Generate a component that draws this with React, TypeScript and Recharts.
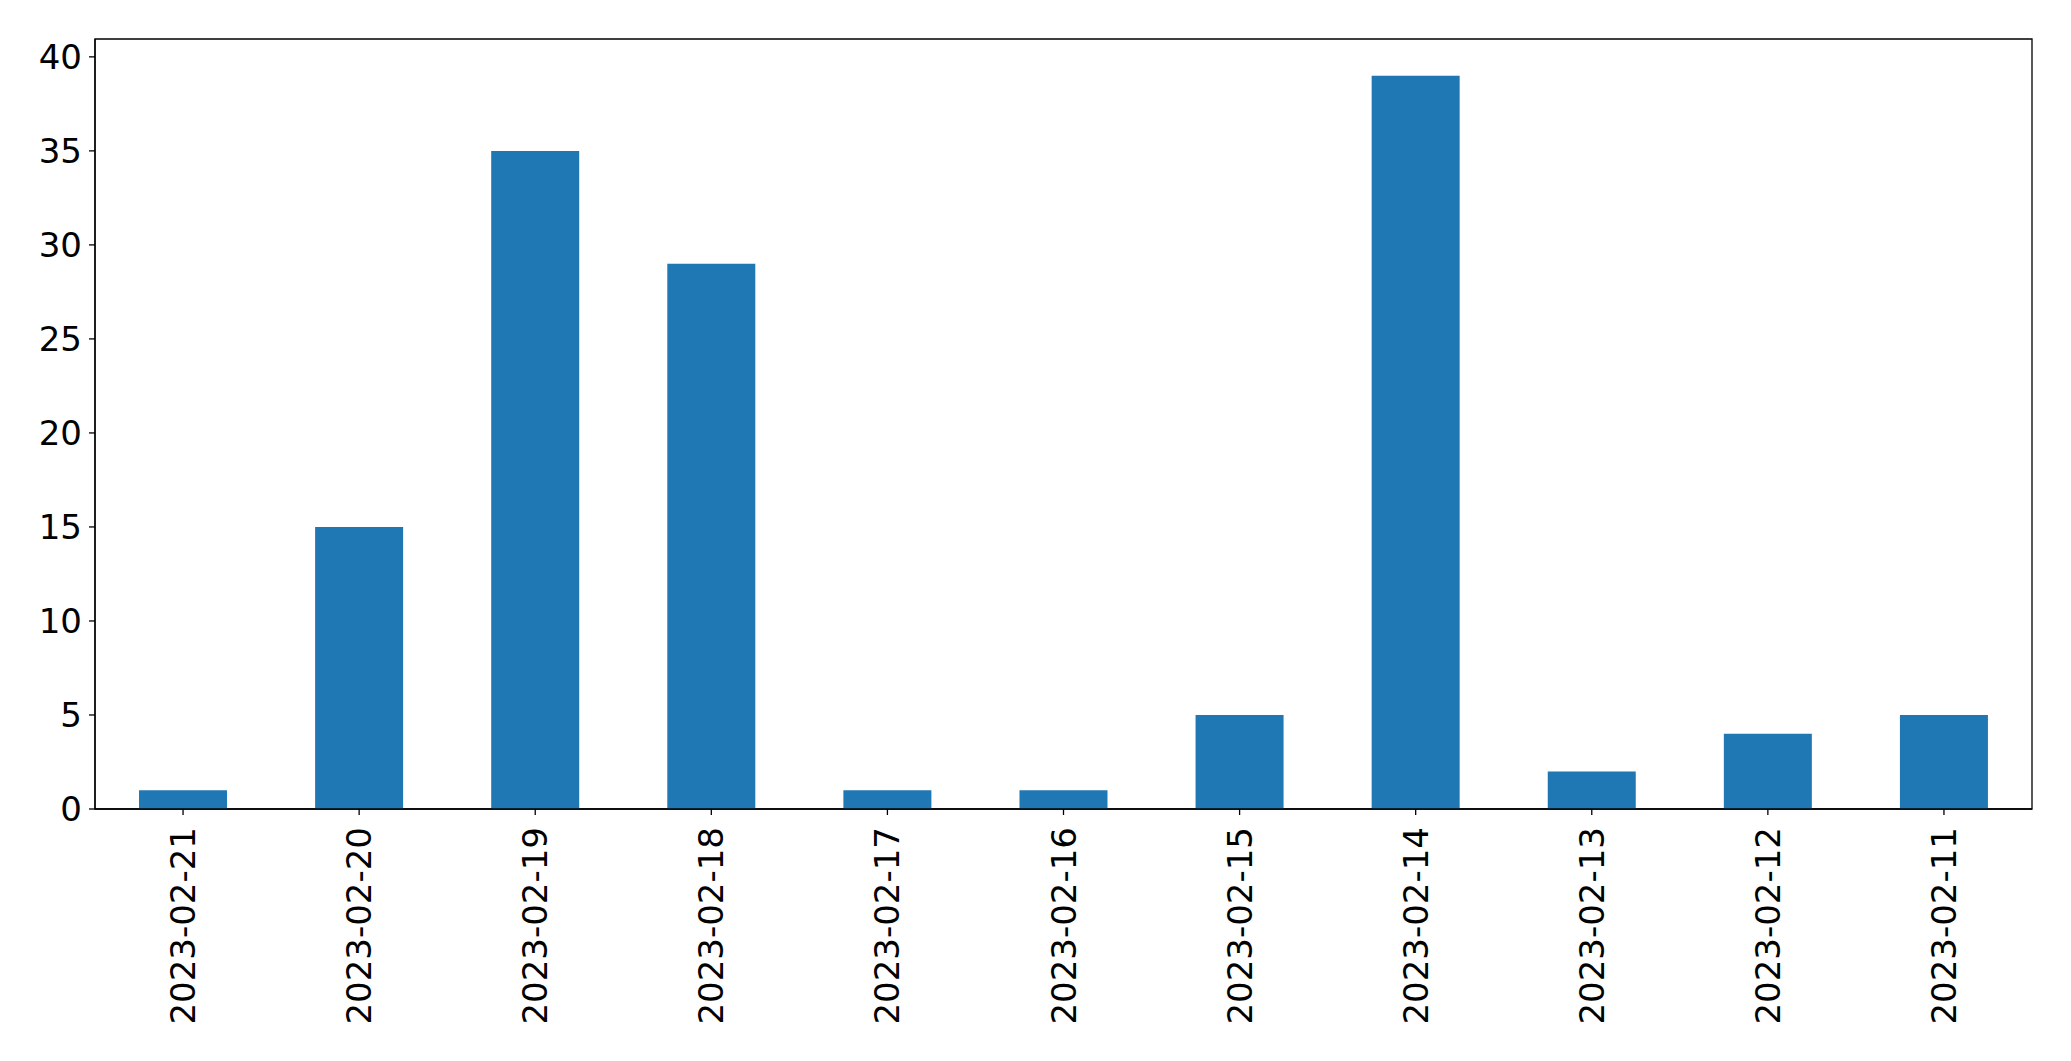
import { BarChart, Bar, XAxis, YAxis, ReferenceArea } from 'recharts'

const days = [
  '2023-02-21', '2023-02-20', '2023-02-19', '2023-02-18', '2023-02-17', '2023-02-16',
  '2023-02-15', '2023-02-14', '2023-02-13', '2023-02-12', '2023-02-11',
]
const counts = [1, 15, 35, 29, 1, 1, 5, 39, 2, 4, 5]
const yTicks = [0, 5, 10, 15, 20, 25, 30, 35, 40]

const rows = days.map((d, i) => ({ day: d, count: counts[i] }))

const FONT = '"DejaVu Sans", sans-serif'

function DayTick(props: any) {
  const { x, y, payload } = props
  return (
    <text
      transform={`translate(${x},${y + 10}) rotate(-90)`}
      textAnchor="end"
      dominantBaseline="central"
      fontSize={34}
      fontFamily={FONT}
      fill="#000"
    >
      {payload.value}
    </text>
  )
}

export default function App() {
  return (
    <div style={{ position: 'absolute', left: 0, top: 0, background: '#fff' }}>
      <BarChart
        width={2071}
        height={1061}
        data={rows}
        margin={{ top: 39, right: 39, bottom: 0, left: 0 }}
        barCategoryGap="25%"
      >
        <XAxis
          dataKey="day"
          height={252}
          tick={<DayTick />}
          tickSize={6}
          axisLine={{ stroke: '#000', strokeWidth: 1.3 }}
          tickLine={{ stroke: '#000', strokeWidth: 1.3 }}
          interval={0}
        />
        <YAxis
          width={95}
          domain={[0, 40.95]}
          ticks={yTicks}
          allowDataOverflow
          tickSize={6}
          tickMargin={7}
          tick={{ fontSize: 34, fill: '#000', fontFamily: FONT }}
          axisLine={{ stroke: '#000', strokeWidth: 1.3 }}
          tickLine={{ stroke: '#000', strokeWidth: 1.3 }}
        />
        <Bar dataKey="count" fill="#1f77b4" isAnimationActive={false} />
        <ReferenceArea
          y1={0}
          y2={40.95}
          fill="none"
          fillOpacity={0}
          stroke="#000"
          strokeWidth={1.3}
          ifOverflow="visible"
        />
      </BarChart>
    </div>
  )
}
